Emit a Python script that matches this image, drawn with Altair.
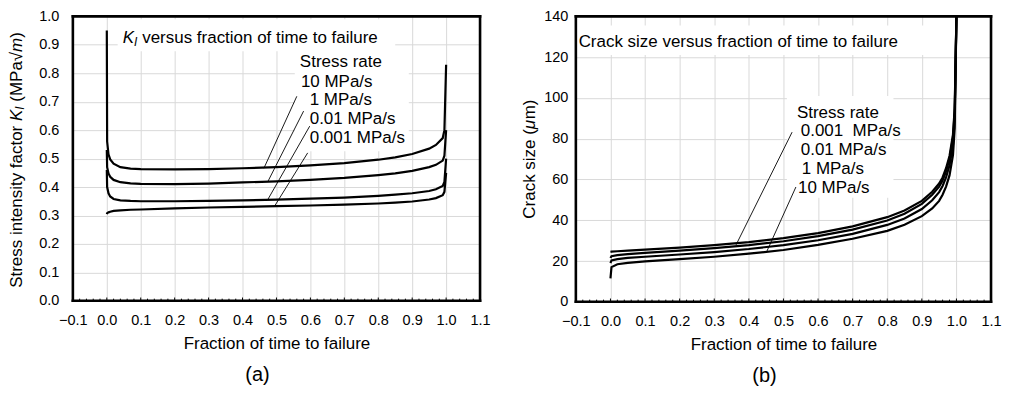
import altair as alt
import pandas as pd
import numpy as np

FONT = "Liberation Sans"

# ---------------- Panel (a) data: K_I vs fraction of time to failure ----------------
xa = [0.0, 0.001, 0.005, 0.01, 0.02, 0.04, 0.07, 0.1, 0.2, 0.3, 0.4, 0.5, 0.6, 0.7,
      0.8, 0.85, 0.9, 0.95, 0.97, 0.99, 0.995, 1.0]
k_10 = [0.95, 0.56, 0.515, 0.497, 0.482, 0.470, 0.465, 0.463, 0.462, 0.463, 0.466, 0.470,
        0.476, 0.484, 0.496, 0.504, 0.516, 0.535, 0.548, 0.572, 0.60, 0.83]
k_1 = [0.53, 0.47, 0.448, 0.436, 0.425, 0.417, 0.413, 0.411, 0.410, 0.412, 0.416, 0.420,
       0.425, 0.432, 0.442, 0.448, 0.457, 0.470, 0.478, 0.493, 0.51, 0.60]
k_001 = [0.46, 0.40, 0.378, 0.367, 0.358, 0.353, 0.351, 0.350, 0.350, 0.351, 0.353, 0.356,
         0.359, 0.363, 0.369, 0.373, 0.378, 0.386, 0.392, 0.404, 0.418, 0.50]
k_0001 = [0.305, 0.308, 0.311, 0.313, 0.316, 0.318, 0.320, 0.321, 0.325, 0.328, 0.330, 0.333,
          0.335, 0.338, 0.342, 0.345, 0.349, 0.356, 0.361, 0.371, 0.383, 0.45]
rates_a = ["10 MPa/s", "1 MPa/s", "0.01 MPa/s", "0.001 MPa/s"]

# ---------------- Panel (b) data: crack size vs fraction of time to failure ----------------
xb = [0.0, 0.003, 0.02, 0.05, 0.1, 0.2, 0.3, 0.4, 0.5, 0.6, 0.7, 0.8, 0.85, 0.9, 0.93,
      0.95, 0.96, 0.97, 0.98, 0.99, 0.995, 1.0]
a_0001 = [24.5, 24.6, 24.8, 25.1, 25.6, 26.6, 27.8, 29.3, 31.2, 33.7, 37.0, 41.5, 44.8, 49.5,
          54.0, 58.0, 61.0, 65.5, 71.5, 82.0, 95.0, 140]
a_001 = [21.5, 22.4, 22.9, 23.4, 24.0, 25.1, 26.3, 27.8, 29.7, 32.2, 35.4, 39.9, 43.2, 48.0,
         52.5, 56.5, 59.5, 64.0, 70.0, 80.5, 93.0, 140]
a_1 = [19.0, 20.3, 20.9, 21.5, 22.1, 23.2, 24.4, 25.9, 27.8, 30.2, 33.3, 37.7, 40.9, 45.5,
       49.8, 53.8, 56.8, 61.0, 67.0, 77.0, 90.0, 140]
a_10 = [11.5, 17.0, 18.4, 19.1, 19.8, 20.9, 22.1, 23.6, 25.4, 27.9, 30.9, 34.8, 37.8, 42.0,
        45.8, 49.5, 52.5, 56.5, 62.0, 72.0, 85.0, 140]
rates_b = ["0.001 MPa/s", "0.01 MPa/s", "1 MPa/s", "10 MPa/s"]

# axis ticks
x_ticks = [-0.1, 0.0, 0.1, 0.2, 0.3, 0.4, 0.5, 0.6, 0.7, 0.8, 0.9, 1.0, 1.1]
ya_ticks = [0.0, 0.1, 0.2, 0.3, 0.4, 0.5, 0.6, 0.7, 0.8, 0.9, 1.0]
yb_ticks = [0, 20, 40, 60, 80, 100, 120, 140]
minor_ticks = [round(v, 2) for v in np.arange(-0.08, 1.1, 0.02)]

# annotation labels
lab_a_txt = ["Stress rate", "10 MPa/s", "1 MPa/s", "0.01 MPa/s", "0.001 MPa/s"]
lab_a_x = [0.569, 0.572, 0.598, 0.598, 0.598]
lab_a_y = [0.84, 0.77, 0.705, 0.638, 0.572]
lead_a_x = [0.56, 0.58, 0.598, 0.592]
lead_a_y = [0.719, 0.667, 0.614, 0.52]
lead_a_x2 = [0.463, 0.475, 0.475, 0.493]
lead_a_y2 = [0.466, 0.42, 0.357, 0.33]

lab_b_txt = ["Stress rate", "0.001\u00a0\u00a0MPa/s", "0.01 MPa/s", "1 MPa/s", "10 MPa/s"]
lab_b_x = [0.539, 0.55, 0.55, 0.553, 0.542]
lab_b_y = [92.5, 83.7, 74.4, 65.0, 55.8]
lead_b_x = [0.525, 0.536]
lead_b_y = [83.2, 56.3]
lead_b_x2 = [0.363, 0.45]
lead_b_y2 = [27.9, 24.0]

X_DOM = [-0.1, 1.1]


def long_df(xs, series, names):
    rows = []
    for name, ys in zip(names, series):
        for i, (x, y) in enumerate(zip(xs, ys)):
            rows.append({"x": x, "y": y, "rate": name, "i": i})
    return pd.DataFrame(rows)


def make_axes(yticks, yfmt, labpad):
    xax = alt.Axis(values=x_ticks, format=".1f", grid=True, ticks=False, domain=False,
                   labelPadding=13, titlePadding=8, labelOverlap=False, labelFlush=False,
                   labelFontSize=14.5, titleFontSize=17, titleFontWeight="normal",
                   labelFont=FONT, titleFont=FONT, labelColor="black", titleColor="black",
                   gridColor="#d9d9d9", gridWidth=1, tickCount=13,
                   title="Fraction of time to failure")
    yax = alt.Axis(values=yticks, format=yfmt, grid=True, ticks=False, domain=False,
                   labelPadding=labpad, labelOverlap=False, labelFlush=False,
                   labelFontSize=14.5, labelFont=FONT, labelColor="black",
                   gridColor="#d9d9d9", gridWidth=1, tickCount=len(yticks), title=None)
    return xax, yax


def panel(xs, series, names, ydom, yticks, yfmt, labpad,
          lab_txt, lab_x, lab_y, lx, ly, lx2, ly2, boxes, tick_minor, tick_major):
    xsc = alt.Scale(domain=X_DOM, nice=False, zero=False)
    ysc = alt.Scale(domain=ydom, nice=False, zero=False)
    xax, yax = make_axes(yticks, yfmt, labpad)

    def X(f="x"):
        return alt.X(f + ":Q", scale=xsc, axis=xax)

    def Y(f="y"):
        return alt.Y(f + ":Q", scale=ysc, axis=yax)

    df = long_df(xs, series, names)
    lines = alt.Chart(df).mark_line(color="black", strokeWidth=2.2).encode(
        x=X(), y=Y(), detail="rate:N", order="i:Q")
    bx = pd.DataFrame(boxes, columns=["x", "x2", "y", "y2"])
    rects = alt.Chart(bx).mark_rect(color="white").encode(
        x=X(), x2="x2:Q", y=Y(), y2="y2:Q")
    tk = pd.DataFrame({"x": minor_ticks,
                       "y": [ydom[0]] * len(minor_ticks),
                       "y2": [tick_major if abs(v * 10 - round(v * 10)) < 1e-6 else tick_minor
                              for v in minor_ticks]})
    ticks = alt.Chart(tk).mark_rule(color="black", strokeWidth=1).encode(
        x=X(), y=Y(), y2="y2:Q")
    ld = pd.DataFrame({"x": lx, "y": ly, "x2": lx2, "y2": ly2})
    leaders = alt.Chart(ld).mark_rule(color="black", strokeWidth=0.9).encode(
        x=X(), y=Y(), x2="x2:Q", y2="y2:Q")
    lt = pd.DataFrame({"t": lab_txt, "x": lab_x, "y": lab_y})
    labels = alt.Chart(lt).mark_text(align="left", baseline="middle", fontSize=17,
                                     font=FONT, color="black").encode(
        x=X(), y=Y(), text="t:N")
    # plot frame: two vertical and two horizontal edges along the scale domains
    fv = pd.DataFrame({"fx": X_DOM, "fy": [ydom[0]] * 2, "fy2": [ydom[1]] * 2})
    fh = pd.DataFrame({"gy": ydom, "gx": [X_DOM[0]] * 2, "gx2": [X_DOM[1]] * 2})
    frame_v = alt.Chart(fv).mark_rule(color="#000000", strokeWidth=2.6,
                                      strokeCap="square", opacity=1).encode(
        x=X("fx"), y=Y("fy"), y2="fy2:Q")
    frame_h = alt.Chart(fh).mark_rule(color="#000000", strokeWidth=2.6,
                                      strokeCap="square", opacity=1).encode(
        x=X("gx"), x2="gx2:Q", y=Y("gy"))
    return [rects, ticks, lines, leaders, labels, frame_v, frame_h], X, Y


def piece(text, x, y, size=17, style="normal", angle=0, dx=0, dy=0, X=None, Y=None,
          pixel=False):
    d = pd.DataFrame({"t": [text], "x": [x], "y": [y]})
    kw = dict(align="left", baseline="middle", fontSize=size, fontStyle=style, font=FONT,
              color="black", dx=dx, dy=dy)
    if angle:
        kw["angle"] = angle
    m = alt.Chart(d).mark_text(**kw)
    if pixel:
        return m.encode(x=alt.value(x), y=alt.value(y), text="t:N")
    return m.encode(x=X(), y=Y(), text="t:N")


WA, HA = 408, 285
WB, HB = 416, 286

# ---------------- Panel (a) ----------------
layers_a, Xa, Ya = panel(
    xa, [k_10, k_1, k_001, k_0001], rates_a, [0, 1.0], ya_ticks, ".1f", 14,
    lab_a_txt, lab_a_x, lab_a_y, lead_a_x, lead_a_y, lead_a_x2, lead_a_y2,
    boxes=[[0.032, 0.85, 0.99, 0.877], [0.554, 0.89, 0.884, 0.526]],
    tick_minor=0.0075, tick_major=0.0115)

title_a = [
    piece("K", 0.047, 0.923, style="italic", X=Xa, Y=Ya),
    piece("I", 0.047, 0.923, size=12, style="italic", dx=11.3, dy=4, X=Xa, Y=Ya),
    piece("versus fraction of time to failure", 0.047, 0.923, dx=19.5, X=Xa, Y=Ya),
]
ytitle_a = [
    piece("Stress intensity factor", -56, 272, angle=270, pixel=True),
    piece("K", -56, 104.8, style="italic", angle=270, pixel=True),
    piece("I", -52.5, 93.5, size=12, style="italic", angle=270, pixel=True),
    piece("(MPa\u221a", -56, 85.5, angle=270, pixel=True),
    piece("m", -56, 35.6, style="italic", angle=270, pixel=True),
    piece(")", -56, 21.4, angle=270, pixel=True),
]
chart_a = alt.layer(*layers_a, *title_a, *ytitle_a).properties(
    width=WA, height=HA,
    title=alt.TitleParams("(a)", orient="bottom", fontSize=20, fontWeight="normal",
                          font=FONT, color="black", anchor="middle", frame="group",
                          offset=14, dx=-19))

# ---------------- Panel (b) ----------------
layers_b, Xb, Yb = panel(
    xb, [a_0001, a_001, a_1, a_10], rates_b, [0, 140], yb_ticks, "d", 8,
    lab_b_txt, lab_b_x, lab_b_y, lead_b_x, lead_b_y, lead_b_x2, lead_b_y2,
    boxes=[[-0.097, 0.93, 135.5, 121.0], [0.51, 0.818, 101.0, 51.0]],
    tick_minor=1.05, tick_major=1.6)

title_b = [piece("Crack size versus fraction of time to failure", -0.092, 127.3,
                 X=Xb, Y=Yb)]
ytitle_b = [
    piece("Crack size (", -46, 202.7, angle=270, pixel=True),
    piece("\u03bc", -46, 113.0, style="italic", angle=270, pixel=True),
    piece("m)", -46, 103.2, angle=270, pixel=True),
]
chart_b = alt.layer(*layers_b, *title_b, *ytitle_b).properties(
    width=WB, height=HB,
    title=alt.TitleParams("(b)", orient="bottom", fontSize=20, fontWeight="normal",
                          font=FONT, color="black", anchor="middle", frame="group",
                          offset=14, dx=-19))

chart = alt.hconcat(chart_a, chart_b, spacing=29).properties(
    padding={"left": 0, "top": 0, "right": 0, "bottom": 0},
    background="white",
).configure_view(
    strokeWidth=0
)

chart.save("out.html", embed_options={"renderer": "svg", "actions": False})
